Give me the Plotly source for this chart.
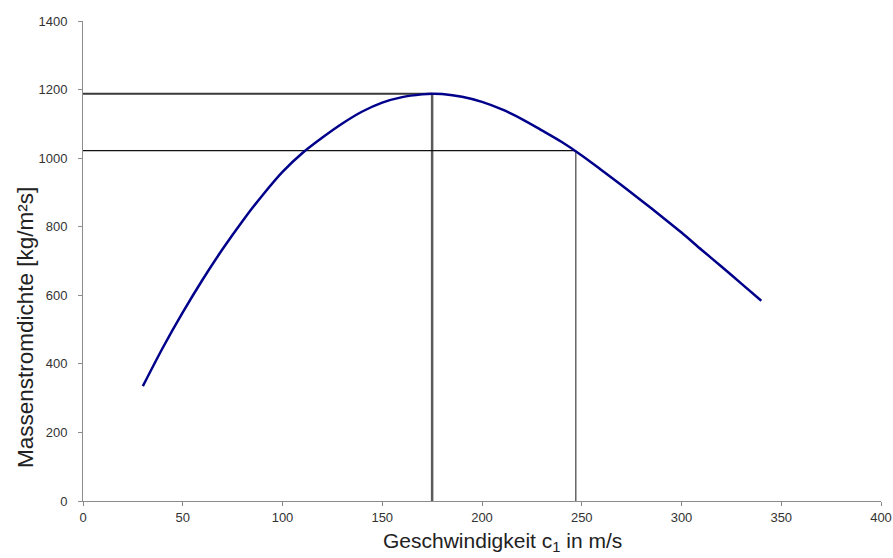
import plotly.graph_objects as go

# Mass flux density over flow velocity
velocity = [30, 40, 50, 60, 70, 80, 90, 100, 110, 120, 130, 140, 150, 160, 170, 175,
            180, 190, 200, 210, 220, 230, 240, 250, 260, 270, 280, 290, 300, 310,
            320, 330, 340]
mass_flux = [335, 447, 550, 646, 735, 817, 892, 960, 1015, 1060, 1101, 1136, 1162,
             1178, 1186, 1188, 1187, 1179, 1164, 1142, 1114, 1081, 1047, 1008, 965,
             921, 876, 830, 783, 733, 684, 634, 584]

# Maximum (critical) point and operating point
peak_c, peak_m = 175, 1188
op_c, op_m = 247, 1022

x_ticks = [0, 50, 100, 150, 200, 250, 300, 350, 400]
y_ticks = [0, 200, 400, 600, 800, 1000, 1200, 1400]

x_title = "Geschwindigkeit c<sub>1</sub> in m/s"
y_title = "Massenstromdichte [kg/m²s]"

font_family = "Liberation Sans, Arial, sans-serif"

fig = go.Figure()

# guide lines to the maximum
fig.add_trace(go.Scatter(x=[0, peak_c], y=[peak_m, peak_m], mode="lines",
                         line=dict(color="#3a3a3a", width=2), hoverinfo="skip"))
fig.add_trace(go.Scatter(x=[peak_c, peak_c], y=[0, peak_m], mode="lines",
                         line=dict(color="#5a5a5a", width=2.5), hoverinfo="skip"))
# guide lines to the operating point
fig.add_trace(go.Scatter(x=[0, op_c], y=[op_m, op_m], mode="lines",
                         line=dict(color="#111111", width=1.2), hoverinfo="skip"))
fig.add_trace(go.Scatter(x=[op_c, op_c], y=[0, op_m], mode="lines",
                         line=dict(color="#666666", width=1.5), hoverinfo="skip"))

# curve
fig.add_trace(go.Scatter(x=velocity, y=mass_flux, mode="lines",
                         line=dict(color="#00008b", width=2.5, shape="spline",
                                   smoothing=0.8),
                         hoverinfo="skip"))

axis_common = dict(showgrid=False, zeroline=False, showline=True,
                   linecolor="#8c8c8c", linewidth=1, ticks="outside",
                   ticklen=4, tickcolor="#8c8c8c", automargin=False,
                   tickfont=dict(family=font_family, size=13, color="#333333"))

fig.update_layout(
    width=893, height=558,
    margin=dict(l=83, r=12, t=21, b=57),
    paper_bgcolor="white", plot_bgcolor="white",
    showlegend=False,
    font=dict(family=font_family, color="#222222"),
    xaxis=dict(range=[0, 400], tickvals=x_ticks, **axis_common),
    yaxis=dict(range=[0, 1400], tickvals=y_ticks, ticklabelstandoff=8,
               **axis_common),
    annotations=[
        dict(text=x_title, xref="paper", yref="paper", x=0.526, y=-0.086,
             xanchor="center", yanchor="middle", showarrow=False,
             font=dict(family=font_family, size=21, color="#222222")),
        dict(text=y_title, xref="paper", yref="paper", x=-0.0727, y=0.3625,
             xanchor="center", yanchor="middle", textangle=-90, showarrow=False,
             font=dict(family=font_family, size=22.5, color="#222222")),
    ],
)

fig.write_html("out.html")
